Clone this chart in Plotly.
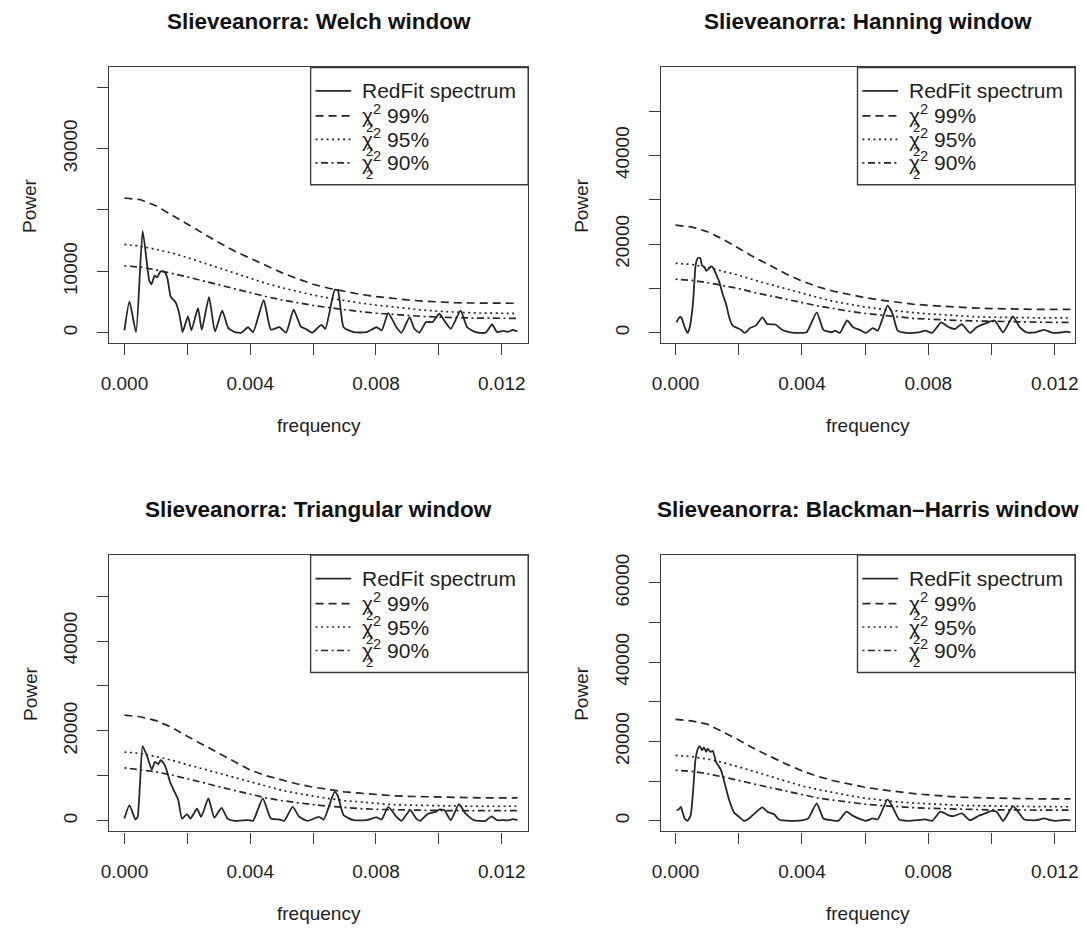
import plotly.graph_objects as go

# ---------------------------------------------------------------------------
# Data: RedFit spectra (frequency, power) and chi-square significance levels
# ---------------------------------------------------------------------------
ci_freq = [0.0, 0.0005, 0.001, 0.0015, 0.002, 0.0025, 0.003, 0.0035, 0.004,
           0.0045, 0.005, 0.0055, 0.006, 0.0065, 0.007, 0.0075, 0.008,
           0.0085, 0.009, 0.0095, 0.010, 0.0105, 0.011, 0.0115, 0.012, 0.0125]

# Welch window (frequency in units of 1e-3)
welch_freq = [0.0, 0.16, 0.37, 0.58, 0.79, 0.86, 0.96, 1.04, 1.15, 1.28, 1.37,
              1.47, 1.62, 1.73, 1.80, 1.85, 2.02, 2.13, 2.34, 2.46, 2.69, 2.88,
              3.11, 3.30, 3.51, 3.72, 3.93, 4.09, 4.43, 4.66, 4.93, 5.14, 5.38,
              5.61, 5.77, 5.97, 6.26, 6.39, 6.69, 6.79, 6.97, 7.29, 7.70, 8.02,
              8.18, 8.39, 8.65, 8.81, 9.07, 9.22, 9.38, 9.59, 9.80, 10.01, 10.17,
              10.38, 10.69, 10.90, 11.16, 11.48, 11.69, 11.85, 12.05, 12.2,
              12.35, 12.5]
welch_power = [370, 5100, 100, 16600, 8500, 7900, 9300, 9050, 10000, 9900, 8800,
               5900, 5000, 3400, 1500, 100, 2650, 400, 4000, 500, 5800, 200,
               3600, 800, 100, 0, 900, 100, 5300, 500, 900, 0, 3750,
               1000, 600, 0, 1300, 650, 7000, 6900, 900, 100, 100, 900,
               400, 3200, 900, 0, 2550, 650, 0, 1750, 1750, 3100, 2000,
               650, 3600, 900, 100, 0, 1350, 100, 300, 150,
               450, 200]
welch_ci99 = [21950, 21700, 20700, 19200, 17600, 16100, 14700, 13300, 12100,
              10900, 9800, 8800, 7900, 7250, 6700, 6250, 5900, 5600, 5350,
              5150, 5000, 4900, 4850, 4800, 4800, 4800]
welch_ci95 = [14400, 14100, 13600, 13000, 12250, 11400, 10550, 9700, 8850,
              8050, 7350, 6700, 6150, 5650, 5200, 4850, 4500, 4200, 3950,
              3700, 3500, 3350, 3250, 3200, 3150, 3150]
welch_ci90 = [10900, 10700, 10250, 9700, 9100, 8450, 7800, 7150, 6500,
              5900, 5350, 4850, 4450, 4100, 3750, 3450, 3200, 3000, 2800,
              2650, 2550, 2450, 2400, 2380, 2350, 2350]

# Hanning window
hann_freq = [0.03, 0.14, 0.19, 0.29, 0.38, 0.45, 0.55, 0.64, 0.71, 0.78, 0.84,
             0.92, 0.97, 1.04, 1.13, 1.18, 1.28, 1.39, 1.49, 1.60, 1.70, 1.81,
             1.96, 2.07, 2.19, 2.36, 2.54, 2.75, 2.90, 3.16, 3.37, 3.63, 3.95,
             4.15, 4.47, 4.68, 4.94, 5.05, 5.20, 5.43, 5.62, 5.83, 6.03, 6.24,
             6.40, 6.71, 6.87, 7.03, 7.29, 7.70, 7.91, 8.12, 8.41, 8.64, 8.85,
             9.06, 9.32, 9.53, 9.90, 10.10, 10.37, 10.68, 10.89, 11.10, 11.40,
             11.67, 11.88, 12.04, 12.2, 12.35, 12.5]
hann_power = [2400, 3600, 3400, 1300, 0, 1300, 6500, 15500, 16900, 16900, 15200,
              14800, 14000, 14400, 15000, 14800, 13300, 11400, 8800, 6500, 3500, 1650,
              1100, 700, 0, 1100, 1650, 3500, 2000, 1900, 700, 150, 0,
              150, 4650, 700, 150, 500, 0, 2800, 1300, 700, 0, 1100,
              500, 6150, 4300, 500, 0, 150, 500, 0, 2400, 1300, 900,
              2000, 0, 1300, 2400, 2800, 150, 3700, 1300, 150, 150,
              700, 150, 0, 100, 300, 100]
hann_ci99 = [24300, 23900, 22850, 21150, 19100, 17000, 15200, 13300, 11700,
             10400, 9400, 8600, 7950, 7400, 6900, 6500, 6200, 5950, 5750,
             5600, 5500, 5400, 5350, 5300, 5300, 5300]
hann_ci95 = [15700, 15450, 14800, 13900, 13000, 11900, 10900, 9900, 8900,
             8000, 7100, 6450, 5850, 5350, 4900, 4600, 4300, 4050, 3800,
             3650, 3550, 3450, 3420, 3400, 3400, 3400]
hann_ci90 = [12100, 11850, 11350, 10700, 10000, 9100, 8400, 7600, 6850,
             6100, 5450, 4900, 4400, 4000, 3600, 3300, 3100, 2900, 2800,
             2700, 2600, 2500, 2450, 2420, 2400, 2400]

# Triangular window
tri_freq = [0.0, 0.16, 0.35, 0.42, 0.49, 0.58, 0.73, 0.87, 0.97, 1.08, 1.15,
            1.26, 1.34, 1.45, 1.57, 1.71, 1.83, 1.99, 2.10, 2.31, 2.44, 2.67,
            2.86, 3.09, 3.28, 3.51, 3.93, 4.09, 4.40, 4.66, 4.93, 5.08, 5.35,
            5.56, 5.82, 6.18, 6.34, 6.68, 6.78, 6.97, 7.29, 7.70, 8.02, 8.18,
            8.39, 8.65, 8.81, 9.09, 9.28, 9.40, 9.64, 9.90, 10.01, 10.17, 10.38,
            10.64, 10.85, 11.11, 11.48, 11.67, 11.85, 12.05, 12.2, 12.35, 12.5]
tri_power = [500, 3500, 300, 900, 7500, 16600, 14200, 11400, 13100, 12600, 13500,
             12700, 11300, 8700, 6800, 4700, 500, 1500, 500, 2700, 900, 5000,
             700, 2900, 500, 0, 150, 0, 5000, 500, 300, 0, 3100,
             900, 0, 900, 300, 6450, 5700, 1250, 150, 150, 750, 300,
             3100, 900, 0, 2400, 500, 0, 1500, 2000, 2500, 2400, 150,
             3700, 1600, 150, 0, 1000, 150, 150, 100, 400, 150]
tri_ci99 = [23500, 23150, 22300, 20800, 18800, 16900, 14950, 13100, 11300,
            10050, 9050, 8200, 7500, 7000, 6450, 6150, 5850, 5600, 5450,
            5350, 5250, 5200, 5150, 5100, 5100, 5100]
tri_ci95 = [15300, 15000, 14300, 13500, 12500, 11550, 10500, 9500, 8550,
            7600, 6800, 6100, 5500, 4950, 4500, 4150, 3850, 3600, 3500,
            3400, 3300, 3250, 3250, 3250, 3250, 3250]
tri_ci90 = [11800, 11400, 10900, 10200, 9400, 8500, 7600, 6750, 5900,
            5100, 4500, 4000, 3600, 3250, 2950, 2700, 2550, 2450, 2400,
            2350, 2300, 2270, 2250, 2250, 2250, 2250]

# Blackman-Harris window
bh_freq = [0.03, 0.10, 0.17, 0.22, 0.29, 0.38, 0.48, 0.55, 0.63, 0.71, 0.77,
           0.84, 0.90, 0.97, 1.02, 1.11, 1.18, 1.28, 1.44, 1.57, 1.70, 1.86,
           2.01, 2.17, 2.33, 2.48, 2.75, 2.90, 3.11, 3.27, 3.63, 4.05, 4.20,
           4.47, 4.68, 4.94, 5.15, 5.41, 5.62, 5.87, 6.03, 6.24, 6.40, 6.71,
           6.87, 7.08, 7.39, 7.91, 8.12, 8.38, 8.64, 8.80, 9.06, 9.32, 9.58,
           9.84, 10.00, 10.16, 10.37, 10.68, 10.84, 11.04, 11.41, 11.67, 11.88,
           12.04, 12.2, 12.35, 12.5]
bh_power = [2700, 2850, 3500, 2300, 600, 0, 1400, 6900, 15300, 18200, 18800,
            17800, 18500, 17400, 18200, 17400, 17600, 14900, 12800, 9000, 5200, 2000,
            1000, 0, 600, 1700, 3400, 2300, 1700, 350, 0, 150, 600,
            4400, 600, 150, 0, 2300, 1250, 350, 0, 600, 350, 5400,
            3500, 350, 0, 350, 0, 2300, 1400, 1200, 1850, 150, 1200,
            2000, 2500, 2300, 0, 3700, 2300, 350, 150, 600, 150,
            0, 100, 250, 100]
bh_ci99 = [25600, 25200, 24400, 22500, 20400, 18150, 16150, 14300, 12600,
           11200, 10100, 9200, 8450, 7850, 7350, 6900, 6550, 6200, 5950,
           5850, 5700, 5620, 5580, 5550, 5550, 5550]
bh_ci95 = [16500, 16200, 15600, 14700, 13600, 12350, 11200, 10000, 8800,
           7900, 7050, 6350, 5700, 5200, 4800, 4500, 4250, 4050, 3900,
           3800, 3700, 3650, 3600, 3580, 3550, 3550]
bh_ci90 = [12750, 12450, 11900, 11100, 10200, 9250, 8350, 7450, 6550,
           5750, 5200, 4650, 4200, 3850, 3550, 3350, 3150, 3000, 2900,
           2850, 2750, 2720, 2700, 2700, 2700, 2700]

titles = ["Slieveanorra: Welch window", "Slieveanorra: Hanning window",
          "Slieveanorra: Triangular window",
          "Slieveanorra: Blackman\u2013Harris window"]
legend_labels = ["RedFit spectrum", "\u03c7<sup>2</sup> 99%",
                 "\u03c7<sup>2</sup> 95%", "\u03c7<sup>2</sup> 90%"]
x_ticks = [0.0, 0.004, 0.008, 0.012]
x_ticktext = ["0.000", "0.004", "0.008", "0.012"]

# ---------------------------------------------------------------------------
# Layout helpers
# ---------------------------------------------------------------------------
W, H = 1084, 928
FONT = "Liberation Sans, Arial, Helvetica, sans-serif"
INK = "#262626"
FRAME = "#3c3c3c"
TEXT = "#1e1e1e"
DASH99 = "8px,5px"
DASH95 = "2px,3.5px"
DASH90 = "2px,3.5px,7px,3.5px"


def px_x(v):
    return v / W


def px_y(v):
    return 1 - v / H


panels = [
    dict(freq=welch_freq, power=welch_power, c99=welch_ci99, c95=welch_ci95,
         c90=welch_ci90, box=(101, 66.5, 525, 342.5),
         xrange=(-0.000494, 0.012840), yrange=(-1690, 43220),
         yticks=[0, 10000, 30000], ytext=["0", "10000", "30000"]),
    dict(freq=hann_freq, power=hann_power, c99=hann_ci99, c95=hann_ci95,
         c90=hann_ci90, box=(659, 66.5, 1078, 342.5),
         xrange=(-0.000469, 0.012645), yrange=(-2300, 59860),
         yticks=[0, 20000, 40000], ytext=["0", "20000", "40000"]),
    dict(freq=tri_freq, power=tri_power, c99=tri_ci99, c95=tri_ci95,
         c90=tri_ci90, box=(101, 554.7, 525, 831.3),
         xrange=(-0.000494, 0.012840), yrange=(-2350, 59110),
         yticks=[0, 20000, 40000], ytext=["0", "20000", "40000"]),
    dict(freq=bh_freq, power=bh_power, c99=bh_ci99, c95=bh_ci95,
         c90=bh_ci90, box=(659, 554.7, 1078, 831.3),
         xrange=(-0.000469, 0.012645), yrange=(-2670, 67000),
         yticks=[0, 20000, 40000, 60000],
         ytext=["0", "20000", "40000", "60000"]),
]

fig = go.Figure()
shapes = []
annotations = []

for i, p in enumerate(panels):
    n = "" if i == 0 else str(i + 1)
    xref, yref = "x" + n, "y" + n
    left, top, right, bottom = p["box"]

    # spectrum and significance curves
    fig.add_trace(go.Scatter(
        x=[f / 1000 for f in p["freq"]], y=p["power"], mode="lines",
        line=dict(color=INK, width=1.8, shape="spline", smoothing=0.5),
        xaxis=xref, yaxis=yref, showlegend=False, hoverinfo="skip"))
    for key, dash in (("c99", DASH99), ("c95", DASH95), ("c90", DASH90)):
        fig.add_trace(go.Scatter(
            x=ci_freq, y=p[key], mode="lines",
            line=dict(color=INK, width=1.7, dash=dash),
            xaxis=xref, yaxis=yref, showlegend=False, hoverinfo="skip"))

    axis_common = dict(
        showline=True, linecolor=FRAME, linewidth=1.4, mirror=True,
        ticks="outside", ticklen=11, tickwidth=1.3, tickcolor=FRAME,
        showgrid=False, zeroline=False, ticklabelstandoff=12,
        tickfont=dict(family=FONT, size=19, color=TEXT),
    )
    minor_common = dict(ticks="outside", ticklen=11, tickwidth=1.3,
                        tickcolor=FRAME, showgrid=False)
    fig.update_layout(**{
        "xaxis" + n: dict(axis_common, domain=[px_x(left), px_x(right)],
                          range=list(p["xrange"]), tickvals=x_ticks,
                          ticktext=x_ticktext, anchor=yref,
                          minor=dict(minor_common, tick0=0, dtick=0.002)),
        "yaxis" + n: dict(axis_common, domain=[px_y(bottom), px_y(top)],
                          range=list(p["yrange"]), tickvals=p["yticks"],
                          ticktext=p["ytext"], tickangle=-90, anchor=xref,
                          minor=dict(minor_common, tick0=0, dtick=10000)),
    })

    cx = (left + right) / 2
    # panel title and axis titles
    annotations.append(dict(
        text="<b>%s</b>" % titles[i], x=px_x(cx), y=px_y(top - 45.5),
        xref="paper", yref="paper", showarrow=False, xanchor="center",
        yanchor="middle", font=dict(family=FONT, size=22.5, color="#111111")))
    annotations.append(dict(
        text="frequency", x=px_x(cx), y=px_y(bottom + 82.5),
        xref="paper", yref="paper", showarrow=False, xanchor="center",
        yanchor="middle", font=dict(family=FONT, size=19, color=TEXT)))
    annotations.append(dict(
        text="Power", x=px_x(left - 80), y=px_y((top + bottom) / 2),
        xref="paper", yref="paper", showarrow=False, xanchor="center",
        yanchor="middle", textangle=-90,
        font=dict(family=FONT, size=19, color=TEXT)))

    # legend box in the top-right corner
    lg_left = right - 220
    lg_bottom = top + 117.5
    shapes.append(dict(type="rect", xref="paper", yref="paper",
                       x0=px_x(lg_left), x1=px_x(right),
                       y0=px_y(lg_bottom), y1=px_y(top),
                       line=dict(color=FRAME, width=1.4),
                       fillcolor="rgba(0,0,0,0)"))
    rows = [top + 23.5, top + 48.5, top + 72, top + 95.5]
    dashes = ["solid", DASH99, DASH95, DASH90]
    for r, (ry, dash, label) in enumerate(zip(rows, dashes, legend_labels)):
        shapes.append(dict(type="line", xref="paper", yref="paper",
                           x0=px_x(lg_left + 5), x1=px_x(lg_left + 41),
                           y0=px_y(ry), y1=px_y(ry),
                           line=dict(color=INK, width=1.7, dash=dash)))
        text_y = ry if r == 0 else ry - 1.5
        annotations.append(dict(
            text=label, x=px_x(lg_left + 50), y=px_y(text_y),
            xref="paper", yref="paper", showarrow=False, xanchor="left",
            yanchor="middle", font=dict(family=FONT, size=21, color=TEXT)))
        if r > 0:
            # lower index of the chi-square symbol
            annotations.append(dict(
                text="2", x=px_x(lg_left + 60), y=px_y(ry + 12),
                xref="paper", yref="paper", showarrow=False,
                xanchor="center", yanchor="middle",
                font=dict(family=FONT, size=13, color=TEXT)))

fig.update_layout(
    width=W, height=H, margin=dict(l=0, r=0, t=0, b=0),
    paper_bgcolor="white", plot_bgcolor="white", showlegend=False,
    shapes=shapes, annotations=annotations,
    font=dict(family=FONT, color=TEXT),
)

fig.write_html("out.html")
